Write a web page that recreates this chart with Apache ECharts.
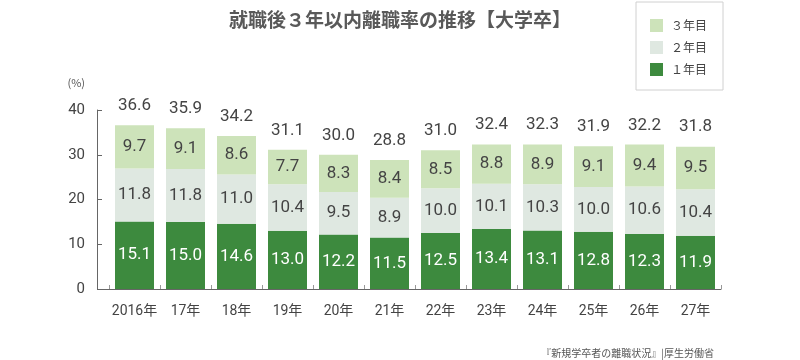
<!DOCTYPE html>
<html>
<head>
<meta charset="utf-8">
<script src="https://cdn.jsdelivr.net/npm/echarts@6/dist/echarts.min.js"></script>
<style>html,body{margin:0;padding:0;background:#fff;}#c{width:800px;height:360px;}</style>
</head>
<body>
<div id="c"></div>
<script>
var categories = ['2016年','17年','18年','19年','20年','21年','22年','23年','24年','25年','26年','27年'];
var year1 = [15.1,15.0,14.6,13.0,12.2,11.5,12.5,13.4,13.1,12.8,12.3,11.9];
var year2 = [11.8,11.8,11.0,10.4,9.5,8.9,10.0,10.1,10.3,10.0,10.6,10.4];
var year3 = [9.7,9.1,8.6,7.7,8.3,8.4,8.5,8.8,8.9,9.1,9.4,9.5];
var totals = [36.6,35.9,34.2,31.1,30.0,28.8,31.0,32.4,32.3,31.9,32.2,31.8];
var yTicks = [0,10,20,30,40];

var NUM = '"Roboto","Noto Sans CJK JP",sans-serif';
var JP = '"Noto Sans CJK JP",sans-serif';
var GL = 109, GR = 79, GT = 110, GB = 71, YOFF = 12;

var chart = echarts.init(document.getElementById('c'), null, {renderer:'canvas'});
function fmt(p){ return p.value.toFixed(1); }
chart.setOption({
  animation:false,
  backgroundColor:'#fff',
  title:[
    {text:'就職後３年以内離職率の推移【大学卒】', left:'center', top:5,
     textStyle:{fontFamily:JP, fontSize:19, fontWeight:'bold', color:'#595959'}},
    {text:'『新規学卒者の離職状況』|厚生労働省', right:81, top:343,
     textStyle:{fontFamily:JP, fontSize:10, fontWeight:'normal', color:'#555'}}
  ],
  legend:{
    orient:'vertical', left:636, top:2,
    data:['3年目','2年目','1年目'],
    formatter:function(n){ return n.replace(/^(\d)/, function(d){ return String.fromCharCode(d.charCodeAt(0)+0xFEE0); }); },
    icon:'rect', itemWidth:13, itemHeight:13, itemGap:9,
    padding:[17,16,14,14],
    borderColor:'#d0d0d0', borderWidth:1,
    textStyle:{fontFamily:JP, fontSize:12, color:'#444', padding:[0,0,0,3]}
  },
  grid:{left:GL, right:GR, top:GT, bottom:GB},
  xAxis:{
    type:'category', data:categories,
    axisLine:{lineStyle:{color:'#666', width:1}},
    axisTick:{show:true, inside:true, length:4, lineStyle:{color:'#999'}},
    axisLabel:{interval:0, fontFamily:NUM, fontSize:14, color:'#444', margin:16}
  },
  yAxis:{
    type:'value', min:yTicks[0], max:yTicks[yTicks.length-1], interval:10, offset:YOFF,
    name:'(%)', nameGap:22,
    nameTextStyle:{fontFamily:JP, fontSize:11, color:'#555', align:'right', padding:[0,12,0,0]},
    axisLine:{show:true, lineStyle:{color:'#666', width:1}},
    axisTick:{show:true, inside:true, length:5, lineStyle:{color:'#666'}},
    splitLine:{show:false},
    axisLabel:{fontFamily:NUM, fontSize:15, color:'#444', margin:12}
  },
  graphic:[{type:'line', shape:{x1:GL-YOFF, y1:360-GB+0.5, x2:GL, y2:360-GB+0.5}, style:{stroke:'#666', lineWidth:1}, z:10}],
  series:[
    {name:'total', type:'bar', data:totals, barWidth:39, barGap:'-100%', z:1,
     itemStyle:{color:'rgba(0,0,0,0)'}, silent:true,
     label:{show:true, position:'top', distance:11, formatter:fmt, fontFamily:NUM, fontSize:17, color:'#444'}},
    {name:'1年目', type:'bar', stack:'s', data:year1, barWidth:39, z:2,
     itemStyle:{color:'#3d8a3e'},
     label:{show:true, position:'inside', formatter:fmt, fontFamily:NUM, fontSize:17, color:'#fff'}},
    {name:'2年目', type:'bar', stack:'s', data:year2, barWidth:39, z:2,
     itemStyle:{color:'#dfe8e1'},
     label:{show:true, position:'inside', formatter:fmt, fontFamily:NUM, fontSize:17, color:'#444'}},
    {name:'3年目', type:'bar', stack:'s', data:year3, barWidth:39, z:2,
     itemStyle:{color:'#cde3ba'},
     label:{show:true, position:'inside', formatter:fmt, fontFamily:NUM, fontSize:17, color:'#444'}}
  ]
});
</script>
</body>
</html>
